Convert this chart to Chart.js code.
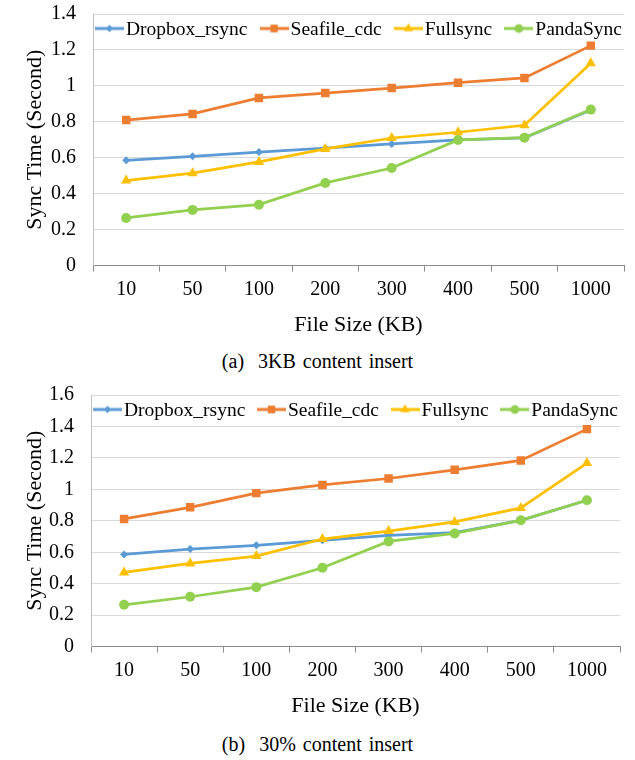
<!DOCTYPE html>
<html>
<head>
<meta charset="utf-8">
<script src="https://cdn.jsdelivr.net/npm/chart.js@4.4.1/dist/chart.umd.min.js"></script>
<style>
  body { margin: 0; background: #fff; }
  .page { position: relative; width: 635px; height: 760px; font-family: "Liberation Serif", "Times New Roman", serif; }
  .box { position: absolute; left: 0; width: 635px; height: 342px; }
  .caption { position: absolute; left: 0; width: 635px; text-align: center; font-size: 20px; color: #000; word-spacing: 2px; }
</style>
</head>
<body>
<div class="page">
  <div class="box" style="top:0"><canvas id="graphique-a"></canvas></div>
  <div class="caption" style="top:350px">(a)&nbsp; 3KB content insert</div>
  <div class="box" style="top:381px"><canvas id="graphique-b"></canvas></div>
  <div class="caption" style="top:733px">(b)&nbsp; 30% content insert</div>
</div>
<script>
// categories (file sizes in KB)
const tailles = ["10", "50", "100", "200", "300", "400", "500", "1000"];
const series = ["Dropbox_rsync", "Seafile_cdc", "Fullsync", "PandaSync"];

// (a) 3KB content insert
const dropboxA = [0.586, 0.608, 0.632, 0.653, 0.677, 0.699, 0.711, 0.866];
const seafileA = [0.810, 0.844, 0.933, 0.960, 0.988, 1.018, 1.044, 1.224];
const fullsyncA = [0.473, 0.514, 0.577, 0.649, 0.710, 0.742, 0.781, 1.126];
const pandaA = [0.265, 0.310, 0.339, 0.460, 0.543, 0.699, 0.712, 0.868];

// (b) 30% content insert
const dropboxB = [0.586, 0.620, 0.644, 0.676, 0.708, 0.725, 0.803, 0.931];
const seafileB = [0.812, 0.886, 0.976, 1.028, 1.069, 1.124, 1.184, 1.383];
const fullsyncB = [0.472, 0.529, 0.576, 0.684, 0.735, 0.793, 0.882, 1.167];
const pandaB = [0.266, 0.317, 0.378, 0.501, 0.669, 0.720, 0.803, 0.931];

// y axis limits
const maxA = 1.4;
const maxB = 1.6;

const couleurs = ["#5B9BD5", "#ED7D31", "#FFC000", "#92D050"];
const formes = ["rectRot", "rect", "triangle", "circle"];
const rayons = [4, 6, 6, 5];
const police = "'Liberation Serif', 'Times New Roman', serif";

// petite image ligne + marqueur pour la légende (style Excel)
function iconeLegende(i) {
  const c = document.createElement("canvas");
  c.width = 29;
  c.height = 14;
  const ctx = c.getContext("2d");
  ctx.strokeStyle = couleurs[i];
  ctx.lineWidth = 3;
  ctx.beginPath();
  ctx.moveTo(0, 7);
  ctx.lineTo(29, 7);
  ctx.stroke();
  ctx.fillStyle = couleurs[i];
  Chart.helpers.drawPoint(ctx, { pointStyle: formes[i], radius: rayons[i] * 0.85, borderWidth: 0 }, 14.5, 7);
  ctx.fill();
  return c;
}
const icones = series.map((s, i) => iconeLegende(i));

// légende dessinée dans la zone du graphique, sur une seule ligne (comme Excel)
const legendeInterne = {
  id: "legendeInterne",
  afterDraw(chart) {
    const { ctx, chartArea } = chart;
    ctx.save();
    ctx.font = "19.5px " + police;
    ctx.textBaseline = "middle";
    ctx.textAlign = "left";
    ctx.fillStyle = "#000";
    const largeurs = series.map((s) => ctx.measureText(s).width);
    const ligne = 29;
    const ecart = 2;
    const total = largeurs.reduce((a, b) => a + b + ligne + ecart, 0);
    const espace = (chartArea.width - 4 - total) / (series.length - 1);
    let x = chartArea.left + 2;
    const y = chartArea.top + 14.5;
    series.forEach((s, i) => {
      ctx.drawImage(icones[i], x, y - 7);
      ctx.fillText(s, x + ligne + ecart, y + 1);
      x += ligne + ecart + largeurs[i] + espace;
    });
    ctx.restore();
  },
};

function creerGraphique(id, donnees, max, largeurAxe, padDroite) {
  const datasets = donnees.map((d, i) => ({
    label: series[i],
    data: d,
    borderColor: couleurs[i],
    backgroundColor: couleurs[i],
    borderWidth: 2.75,
    pointStyle: formes[i],
    pointRadius: rayons[i],
    pointHoverRadius: rayons[i],
    pointBorderWidth: 0,
    order: 4 - i, // PandaSync dessiné au-dessus
  }));

  return new Chart(document.querySelector(id), {
    type: "line",
    data: { labels: tailles, datasets: datasets },
    plugins: [legendeInterne],
    options: {
      responsive: true,
      maintainAspectRatio: false,
      animation: false,
      layout: { padding: { top: 0, left: 22, right: padDroite, bottom: 4 } },
      plugins: {
        tooltip: { enabled: false },
        legend: { display: false },
      },
      scales: {
        x: {
          offset: true,
          grid: { offset: true, drawOnChartArea: false, drawTicks: true, tickLength: 6, color: "#8c8c8c" },
          border: { color: "#8c8c8c", width: 1 },
          ticks: { color: "#000", padding: 6, font: { family: police, size: 20 } },
          title: { display: true, text: "File Size (KB)", color: "#000", padding: { top: 4, bottom: 0 }, font: { family: police, size: 22 } },
        },
        y: {
          min: 0,
          max: max,
          afterFit: (scale) => {
            scale.width = largeurAxe;
          },
          ticks: {
            stepSize: 0.2,
            color: "#000",
            padding: 2,
            font: { family: police, size: 20 },
            callback: (v) => Math.round(v * 10) / 10,
          },
          // tick invisible : sert seulement à écarter les libellés de l'axe
          grid: { color: "#d9d9d9", drawTicks: true, tickLength: 15, tickColor: "rgba(0,0,0,0)" },
          border: { color: "#bfbfbf" },
          title: { display: true, text: "Sync Time (Second)", color: "#000", padding: { top: 0, bottom: 4 }, font: { family: police, size: 22 } },
        },
      },
    },
  });
}

creerGraphique("#graphique-a", [dropboxA, seafileA, fullsyncA, pandaA], maxA, 71, 11);
creerGraphique("#graphique-b", [dropboxB, seafileB, fullsyncB, pandaB], maxB, 69, 15);
</script>
</body>
</html>
